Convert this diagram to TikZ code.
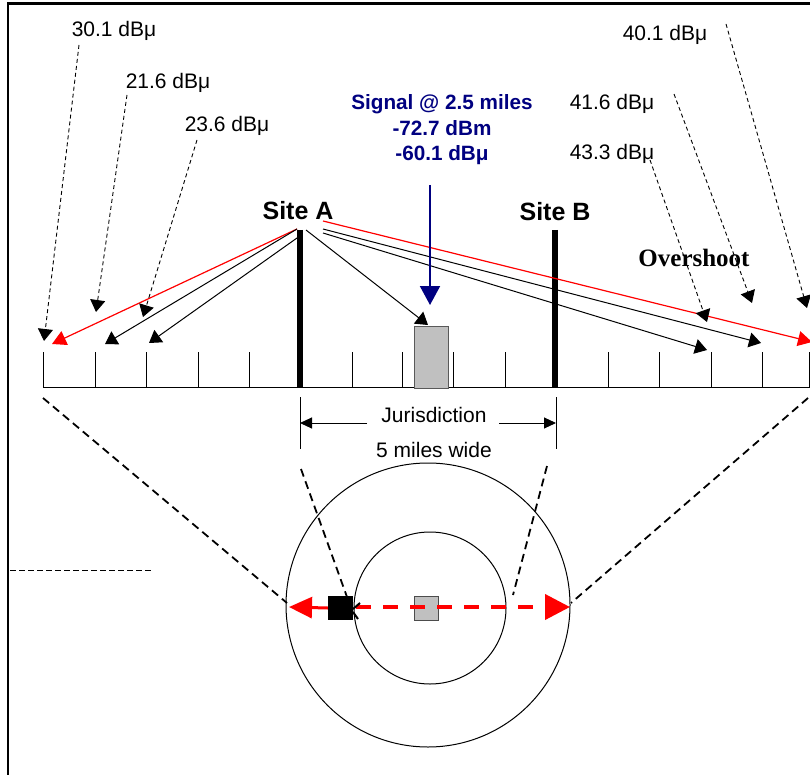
\documentclass[tikz,border=0pt]{standalone}
\usepackage{fontspec}
\setmainfont{Liberation Sans}
\newfontfamily\serifbold{Liberation Serif}
\usetikzlibrary{arrows.meta}
\definecolor{navyb}{RGB}{0,0,128}
\definecolor{boxgray}{RGB}{192,192,192}
\begin{document}
\begin{tikzpicture}[x=1pt,y=-1pt,
  lbl/.style={font=\fontsize{21}{25}\selectfont, inner sep=0pt},
  sitelbl/.style={font=\fontsize{25}{30}\selectfont\bfseries, inner sep=0pt},
  sig/.style={font=\fontsize{20.7}{25.5}\selectfont\bfseries, text=navyb, align=center, inner sep=0pt},
  tipb/.style={-{Triangle[length=12pt,width=15pt]}},
  lead/.style={tipb, dash pattern=on 4pt off 3pt, line width=0.9pt},
  ray/.style={tipb, line width=1pt},
  redray/.style={-{Triangle[length=14pt,width=15pt]}, red, line width=1.2pt},
  pole/.style={line width=6.5pt},
  tick/.style={line width=1pt},
  bigdash/.style={dash pattern=on 8pt off 5pt, line width=1.8pt},
  dimarrow/.style={-{Triangle[length=12pt,width=11pt]}, line width=1pt}
]
\useasboundingbox (0,0) rectangle (810,775);
% frame
\draw[line width=2.7pt] (8,775) -- (8,3.5) -- (812,3.5);
% ruler
\coordinate (rl) at (43,387);
\coordinate (rr) at (812,387);
\draw[line width=1pt] (rl) -- (rr);
\foreach \x in {43,95,146,198,249,352,402,453,505,608,659,711,762,809}
  \draw[tick] (\x,352) -- (\x,387);
% poles
\coordinate (Atop) at (300,230); \coordinate (Abot) at (300,387);
\coordinate (Btop) at (555,230); \coordinate (Bbot) at (555,387);
\draw[pole] (Atop) -- (Abot);
\draw[pole] (Btop) -- (Bbot);
\node[sitelbl] (siteA) at (298,211) {Site A};
\node[sitelbl] (siteB) at (555,212) {Site B};
% receiver box
\node[draw=black!65, fill=boxgray, line width=1pt, minimum width=34pt, minimum height=62pt, inner sep=0pt] (box) at (431,357) {};
% rays from site A
\coordinate (a1) at (297,229); \coordinate (a2) at (297,238);
\coordinate (a3) at (306,230); \coordinate (a4) at (323,221);
\coordinate (a5) at (323,229); \coordinate (a6) at (323,233);
\coordinate (tl1) at (52,344); \coordinate (tl2) at (105,344); \coordinate (tl3) at (149,343);
\coordinate (tbox) at (428,325);
\coordinate (tr0) at (812,342); \coordinate (tr1) at (761,343); \coordinate (tr2) at (707,350);
\draw[redray] (a1) -- (tl1);
\draw[ray] (a1) -- (tl2);
\draw[ray] (a2) -- (tl3);
\draw[ray] (a3) -- (tbox);
\draw[redray] (a4) -- (tr0);
\draw[ray] (a5) -- (tr1);
\draw[ray] (a6) -- (tr2);
% signal label
\node[sig] (signal) at (442,130) {Signal @ 2.5 miles\\-72.7 dBm\\-60.1 dBμ};
\coordinate (s1) at (430,185); \coordinate (s2) at (430,305);
\draw[navyb, line width=2pt, -{Triangle[length=19pt,width=20pt]}] (s1) -- (s2);
% left labels
\node[lbl] (l30) at (114,31) {30.1 dBμ};
\node[lbl] (l21) at (168,83) {21.6 dBμ};
\node[lbl] (l23) at (227,126) {23.6 dBμ};
\coordinate (l30s) at (79,45);  \coordinate (l30t) at (44,341);
\coordinate (l21s) at (127,95); \coordinate (l21t) at (96,312);
\coordinate (l23s) at (197,140); \coordinate (l23t) at (143,317);
\draw[lead] (l30s) -- (l30t);
\draw[lead] (l21s) -- (l21t);
\draw[lead] (l23s) -- (l23t);
% right labels
\node[lbl] (l40) at (665,35) {40.1 dBμ};
\node[lbl] (l41) at (612,104) {41.6 dBμ};
\node[lbl] (l43) at (612,154) {43.3 dBμ};
\coordinate (l40s) at (726,24);  \coordinate (l40t) at (807,308);
\coordinate (l41s) at (674,94);  \coordinate (l41t) at (752,303);
\coordinate (l43s) at (650,160); \coordinate (l43t) at (707,322);
\draw[lead] (l40s) -- (l40t);
\draw[lead] (l41s) -- (l41t);
\draw[lead] (l43s) -- (l43t);
\node[font=\serifbold\fontsize{25}{30}\selectfont\bfseries, inner sep=0pt] (over) at (694,258) {Overshoot};
% jurisdiction
\coordinate (j1t) at (300,397); \coordinate (j1b) at (300,449);
\coordinate (j2t) at (556,397); \coordinate (j2b) at (556,449);
\draw[line width=1pt] (j1t) -- (j1b);
\draw[line width=1pt] (j2t) -- (j2b);
\node[lbl] (jur) at (434,415) {Jurisdiction};
\node[lbl] (wide) at (434,450) {5 miles wide};
\coordinate (ja) at (367,423); \coordinate (jat) at (300,423);
\coordinate (jb) at (499,423); \coordinate (jbt) at (556,423);
\draw[dimarrow] (ja) -- (jat);
\draw[dimarrow] (jb) -- (jbt);
% circles
\node[draw, circle, line width=1pt, minimum size=284pt, inner sep=0pt] (outer) at (428,605) {};
\node[draw, circle, line width=1pt, minimum size=152pt, inner sep=0pt] (inner) at (430,608) {};
% projection dashes
\coordinate (pl1) at (43,398); \coordinate (pl2) at (287,603);
\coordinate (pr1) at (808,398); \coordinate (pr2) at (571,603);
\coordinate (pa1) at (301,469); \coordinate (pa2) at (347,597);
\coordinate (pb1) at (547,466); \coordinate (pb2) at (513,595);
\draw[bigdash] (pl1) -- (pl2);
\draw[bigdash] (pr1) -- (pr2);
\draw[bigdash] (pa1) -- (pa2);
\draw[bigdash] (pb1) -- (pb2);
% left horizontal dash
\coordinate (h1) at (10,570); \coordinate (h2) at (152,570);
\draw[dash pattern=on 6pt off 3pt, line width=0.9pt] (h1) -- (h2);
% squares
\node[fill=black, minimum width=25pt, minimum height=24pt, inner sep=0pt] (blk) at (340.5,608) {};
\node[draw=black!70, fill=boxgray, line width=1pt, minimum width=24pt, minimum height=24pt, inner sep=0pt] (gsq) at (426,608) {};
% red arrows
\coordinate (redl) at (289,607);
\coordinate (redr) at (570,607);
\coordinate (reds) at (356,607);
\draw[red, line width=3pt, -{Triangle[length=23pt,width=21pt]}] (blk.west) -- (redl);
\draw[red, line width=4pt, dash pattern=on 15pt off 12pt, -{Triangle[length=25pt,width=25pt]}] (reds) -- (redr);
\coordinate (c1) at (360,603); \coordinate (c2) at (353,609);
\coordinate (c3) at (353,612); \coordinate (c4) at (358,619);
\draw[line width=2pt] (c1) -- (c2);
\draw[line width=2pt] (c3) -- (c4);
\end{tikzpicture}
\end{document}
